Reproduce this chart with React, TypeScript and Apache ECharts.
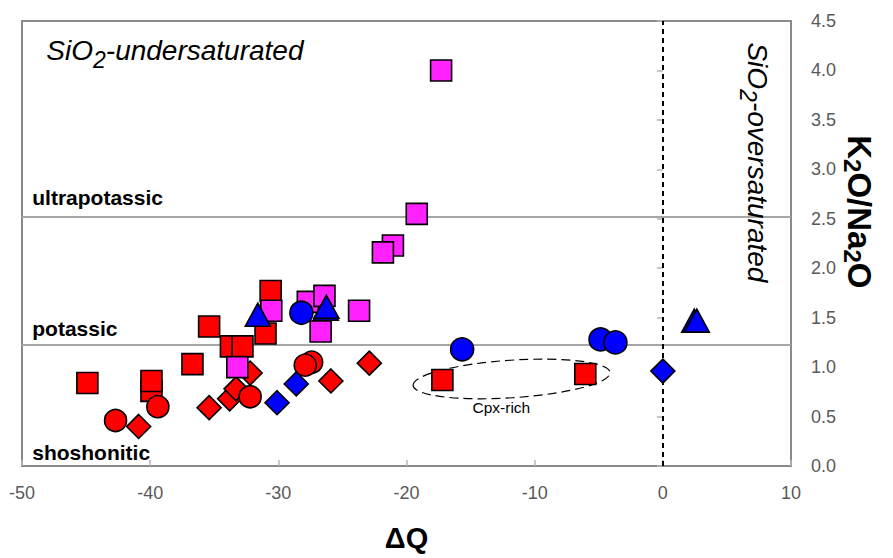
import React, { useEffect, useRef } from 'react';
import * as echarts from 'echarts';

const FONT = '"Liberation Sans", Arial, Helvetica, sans-serif';

// ---- Data: ΔQ (x) and K2O/Na2O (y) ----
const redSquareX = [-44.9, -39.9, -39.9, -36.7, -35.4, -33.7, -32.8, -30.6, -31.0, -17.2, -6.05];
const redSquareY = [0.84, 0.76, 0.86, 1.03, 1.41, 1.21, 1.21, 1.77, 1.34, 0.87, 0.93];

const magentaSquareX = [-17.3, -19.2, -21.06, -21.84, -30.55, -27.7, -26.4, -26.7, -23.7, -33.2];
const magentaSquareY = [4.0, 2.55, 2.23, 2.16, 1.57, 1.66, 1.72, 1.36, 1.57, 1.0];

const redDiamondX = [-40.9, -35.4, -33.8, -33.3, -32.2, -25.9, -22.9];
const redDiamondY = [0.4, 0.59, 0.68, 0.78, 0.94, 0.86, 1.04];

const redCircleX = [-42.7, -39.4, -32.2, -27.4, -27.9];
const redCircleY = [0.46, 0.6, 0.7, 1.05, 1.02];

const blueDiamondX = [-30.1, -28.6, 0.0];
const blueDiamondY = [0.64, 0.83, 0.96];

const blueCircleX = [-28.2, -15.66, -4.86, -3.7];
const blueCircleY = [1.55, 1.18, 1.28, 1.25];

const blueTriangleX = [-31.6, -26.3, -26.25, 2.45, 2.65];
const blueTriangleY = [1.53, 1.59, 1.61, 1.47, 1.47];

// Boundary lines
const ultrapotassicLine = 2.52;
const potassicLine = 1.23;
const saturationLine = 0;

// Axis ranges / ticks
const xMin = -50, xMax = 10, xStep = 10;
const yMin = 0, yMax = 4.5, yStep = 0.5;

// Annotation anchors (data coordinates)
const underText = { x: -48.1, y: 4.2 };
const overText = { x: 7.35, y: 3.07 };
const ultraText = { x: -49.2, y: 2.72 };
const potText = { x: -49.2, y: 1.39 };
const shoText = { x: -49.2, y: 0.14 };
const cpxText = { x: -12.6, y: 0.59 };
const yTitle = { x: 15.35, y: 2.57 };

// Cpx-rich ellipse (data centre and half-widths)
const ellipseCenter = { x: -11.8, y: 0.88 };
const ellipseHalf = { x: 7.7, y: 0.19 };

const zip = (xs: number[], ys: number[]) => xs.map((x, i) => [x, ys[i]]);

const border = { borderColor: '#000', borderWidth: 1.6 };

function scatter(name: string, xs: number[], ys: number[], symbol: string, size: any, color: string, z: number) {
  return {
    name,
    type: 'scatter',
    data: zip(xs, ys),
    symbol,
    symbolSize: size,
    itemStyle: { color, ...border, opacity: 1 },
    z,
    silent: true,
    emphasis: { disabled: true },
  };
}

const tok = (size: number, italic: boolean, bold: boolean) => ({
  fontSize: size,
  fontFamily: FONT,
  fontStyle: italic ? 'italic' : 'normal',
  fontWeight: bold ? 'bold' : 'normal',
  fill: '#000',
});

function textSeries(pos: { x: number; y: number }, text: string, rich: any, align: string, rotation: number) {
  return {
    type: 'custom',
    coordinateSystem: 'cartesian2d',
    data: [[pos.x, pos.y]],
    silent: true,
    clip: false,
    z: 5,
    renderItem: (_p: any, api: any) => {
      const c = api.coord([api.value(0), api.value(1)]);
      return {
        type: 'text',
        x: c[0],
        y: c[1],
        rotation,
        style: {
          text,
          rich,
          align,
          verticalAlign: 'middle',
          fill: '#000',
        },
      };
    },
  };
}

const satRich = {
  a: { ...tok(28, true, false), lineHeight: 32 },
  s: { ...tok(23, true, false), lineHeight: 32, padding: [18, 0, 0, 0] },
};
const titleRich = {
  a: { ...tok(33, false, true), lineHeight: 38 },
  s: { ...tok(24, false, true), lineHeight: 38, padding: [14, 0, 0, 0] },
};
const boldRich = { b: { ...tok(21, false, true), lineHeight: 24 } };
const smallRich = { c: { ...tok(15.5, false, false), lineHeight: 18 } };

export default function App() {
  const ref = useRef<HTMLDivElement>(null);
  useEffect(() => {
    document.body.style.margin = '0';
    const chart = echarts.init(ref.current!, null, { renderer: 'svg' });
    const option: any = {
      animation: false,
      grid: {
        left: 22,
        right: 102,
        top: 21,
        bottom: 92,
        show: true,
        borderColor: '#8a8a8a',
        borderWidth: 2,
        backgroundColor: 'transparent',
        containLabel: false,
        outerBoundsMode: 'none',
      },
      xAxis: {
        type: 'value',
        min: xMin,
        max: xMax,
        interval: xStep,
        axisLine: { show: false },
        axisTick: { show: true, inside: true, length: 6, lineStyle: { color: '#b5b5b5', width: 1.5 } },
        splitLine: { show: false },
        axisLabel: { fontSize: 18, color: '#595959', fontFamily: FONT, margin: 18 },
        name: 'ΔQ',
        nameLocation: 'middle',
        nameGap: 56,
        nameTextStyle: { fontSize: 29, fontWeight: 'bold', color: '#000', fontFamily: FONT, lineHeight: 32 },
      },
      yAxis: {
        type: 'value',
        position: 'right',
        min: yMin,
        max: yMax,
        interval: yStep,
        axisLine: { show: false },
        axisTick: { show: true, inside: true, length: 6, lineStyle: { color: '#b5b5b5', width: 1.5 } },
        splitLine: { show: false },
        axisLabel: {
          fontSize: 18,
          color: '#595959',
          fontFamily: FONT,
          margin: 20,
          formatter: (v: number) => v.toFixed(1),
        },
      },
      series: [
        {
          type: 'scatter',
          data: [],
          silent: true,
          z: 1,
          markLine: {
            silent: true,
            z: 1,
            symbol: ['none', 'none'],
            label: { show: false },
            animation: false,
            data: [
              { yAxis: ultrapotassicLine, lineStyle: { color: '#a6a6a6', width: 2, type: 'solid' } },
              { yAxis: potassicLine, lineStyle: { color: '#a6a6a6', width: 2, type: 'solid' } },
              { xAxis: saturationLine, lineStyle: { color: '#000', width: 2, type: [5, 4] } },
            ],
          },
        },
        {
          type: 'custom',
          coordinateSystem: 'cartesian2d',
          data: [[ellipseCenter.x, ellipseCenter.y]],
          silent: true,
          z: 1,
          renderItem: (_p: any, api: any) => {
            const c = api.coord([api.value(0), api.value(1)]);
            const s = api.size([ellipseHalf.x, ellipseHalf.y]);
            return {
              type: 'ellipse',
              x: c[0],
              y: c[1],
              rotation: 0.065,
              shape: { cx: 0, cy: 0, rx: s[0], ry: s[1] },
              style: { fill: 'none', stroke: '#000', lineWidth: 1.2, lineDash: [9, 5] },
            };
          },
        },
        scatter('red diamond', redDiamondX, redDiamondY, 'diamond', 24, '#ff0000', 2),
        scatter('red square', redSquareX, redSquareY, 'rect', 21, '#ff0000', 2),
        scatter('magenta square', magentaSquareX, magentaSquareY, 'rect', 21, '#ff22ff', 3),
        scatter('red circle', redCircleX, redCircleY, 'circle', 22, '#ff0000', 3),
        scatter('blue diamond', blueDiamondX, blueDiamondY, 'diamond', 24, '#0000ff', 3),
        scatter('blue circle', blueCircleX, blueCircleY, 'circle', 23, '#0000ff', 4),
        scatter('blue triangle', blueTriangleX, blueTriangleY, 'triangle', [25, 23], '#0000ff', 4),
        textSeries(underText, '{a|SiO}{s|2}{a|-undersaturated}', satRich, 'left', 0),
        textSeries(overText, '{a|SiO}{s|2}{a|-oversaturated}', satRich, 'center', -Math.PI / 2),
        textSeries(ultraText, '{b|ultrapotassic}', boldRich, 'left', 0),
        textSeries(potText, '{b|potassic}', boldRich, 'left', 0),
        textSeries(shoText, '{b|shoshonitic}', boldRich, 'left', 0),
        textSeries(cpxText, '{c|Cpx-rich}', smallRich, 'center', 0),
        textSeries(yTitle, '{a|K}{s|2}{a|O/Na}{s|2}{a|O}', titleRich, 'center', -Math.PI / 2),
      ],
    };
    chart.setOption(option);
    return () => chart.dispose();
  }, []);
  return <div ref={ref} style={{ width: 893, height: 558 }} />;
}
